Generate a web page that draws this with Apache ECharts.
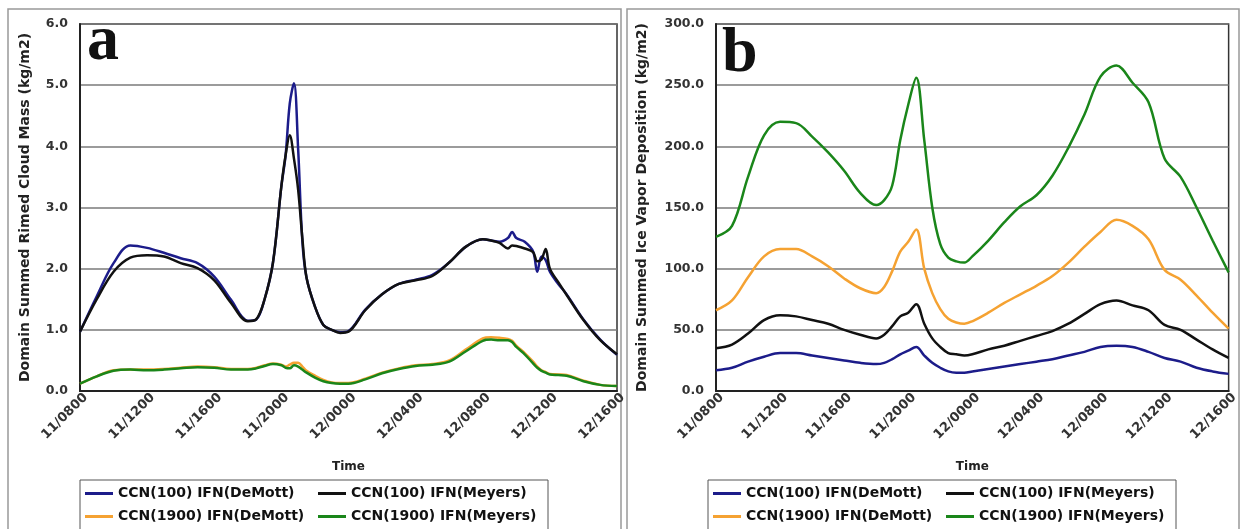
<!DOCTYPE html>
<html>
<head>
<meta charset="utf-8">
<script src="https://cdn.jsdelivr.net/npm/echarts@6/dist/echarts.min.js"></script>
<style>
  html, body { margin: 0; padding: 0; background: #fff; }
  #main { width: 1241px; height: 529px; }
</style>
</head>
<body>
<div id="main"></div>
<script>
// tick labels (every 4 hours, 11/0800 .. 12/1600)
var timeLabels = ['11/0800', '11/1200', '11/1600', '11/2000', '12/0000', '12/0400', '12/0800', '12/1200', '12/1600']
var names = ['CCN(100) IFN(DeMott)', 'CCN(100) IFN(Meyers)', 'CCN(1900) IFN(DeMott)', 'CCN(1900) IFN(Meyers)']

// panel a : hours since 11/0800
var hoursA = [0, 1, 2, 3, 4, 5, 6, 7, 8, 9, 10, 10.5, 11, 11.5, 12, 12.25, 12.5, 12.75, 13, 13.25, 13.5, 14, 14.5, 15, 15.5, 16, 17, 18, 19, 20, 21, 22, 23, 24, 24.5, 25, 25.5, 25.75, 26, 26.5, 27, 27.25, 27.5, 27.75, 28, 28.5, 29, 30, 31, 32]
var rimedDeMott100 = [0.97, 1.55, 2.09, 2.38, 2.34, 2.26, 2.17, 2.09, 1.87, 1.49, 1.15, 1.17, 1.5, 2.1, 3.35, 3.85, 4.7, 5.03, 3.95, 2.45, 1.85, 1.38, 1.08, 1.0, 0.96, 0.98, 1.33, 1.58, 1.75, 1.82, 1.9, 2.1, 2.36, 2.48, 2.46, 2.44, 2.5, 2.6, 2.5, 2.44, 2.28, 1.95, 2.2, 2.14, 1.95, 1.75, 1.58, 1.17, 0.84, 0.59]
var rimedMeyers100 = [0.97, 1.5, 1.95, 2.18, 2.22, 2.2, 2.09, 2.01, 1.81, 1.44, 1.14, 1.17, 1.5, 2.1, 3.35, 3.85, 4.18, 3.8, 3.29, 2.5, 1.85, 1.38, 1.08, 1.0, 0.95, 0.97, 1.32, 1.58, 1.75, 1.81, 1.88, 2.1, 2.36, 2.48, 2.46, 2.42, 2.33, 2.38, 2.37, 2.33, 2.27, 2.12, 2.15, 2.32, 2.0, 1.78, 1.57, 1.16, 0.83, 0.6]
var rimedDeMott1900 = [0.12, 0.24, 0.34, 0.35, 0.35, 0.36, 0.38, 0.4, 0.39, 0.36, 0.36, 0.38, 0.42, 0.45, 0.43, 0.4, 0.43, 0.46, 0.46, 0.4, 0.33, 0.25, 0.18, 0.14, 0.13, 0.13, 0.2, 0.3, 0.37, 0.42, 0.44, 0.5, 0.68, 0.86, 0.88, 0.87, 0.85, 0.82, 0.74, 0.62, 0.48, 0.4, 0.34, 0.31, 0.28, 0.27, 0.26, 0.17, 0.1, 0.08]
var rimedMeyers1900 = [0.12, 0.24, 0.33, 0.35, 0.34, 0.35, 0.37, 0.39, 0.38, 0.35, 0.35, 0.37, 0.41, 0.44, 0.42, 0.38, 0.37, 0.42, 0.4, 0.35, 0.3, 0.22, 0.16, 0.13, 0.12, 0.12, 0.19, 0.29, 0.36, 0.41, 0.43, 0.48, 0.65, 0.82, 0.84, 0.83, 0.83, 0.8, 0.72, 0.6, 0.45, 0.38, 0.33, 0.3, 0.27, 0.26, 0.25, 0.16, 0.1, 0.08]

// panel b
var hoursB = [0, 1, 2, 3, 4, 5, 6, 7, 8, 9, 10, 10.5, 11, 11.5, 12, 12.5, 13, 13.5, 14, 14.5, 15, 15.5, 16, 17, 18, 19, 20, 21, 22, 23, 24, 25, 26, 27, 28, 29, 30, 31, 32]
var iceDeMott100 = [17, 19, 24, 28, 31, 31, 29, 27, 25, 23, 22, 23, 26, 30, 33, 36, 29, 23, 19, 16, 15, 15, 16, 18, 20, 22, 24, 26, 29, 32, 36, 37, 36, 32, 27, 24, 19, 16, 14]
var iceMeyers100 = [35, 38, 47, 58, 62, 61, 58, 55, 50, 46, 43, 46, 53, 61, 64, 71, 55, 43, 36, 31, 30, 29, 30, 34, 37, 41, 45, 49, 55, 63, 71, 74, 70, 66, 54, 50, 42, 34, 27]
var iceDeMott1900 = [66, 74, 93, 110, 116, 116, 110, 102, 92, 84, 80, 85, 98, 114, 122, 132, 100, 80, 67, 59, 56, 55, 57, 64, 72, 79, 86, 94, 105, 118, 130, 140, 135, 124, 99, 91, 78, 64, 51]
var iceMeyers1900 = [126, 135, 175, 209, 220, 219, 208, 195, 180, 162, 152, 156, 168, 205, 234, 256, 205, 150, 120, 109, 106, 105, 110, 123, 138, 151, 160, 176, 199, 226, 257, 266, 252, 236, 190, 175, 150, 123, 97]

var colors = ['#1c1c8a', '#111111', '#f5a232', '#1a861a']
var fontSans = 'DejaVu Sans'

function pairs(xs, ys) {
    var out = []
    for (let i = 0; i < xs.length; i++) {
        out.push([xs[i], ys[i]])
    }
    return out
}

function makeX(gridIndex) {
    return {
        type: 'value', gridIndex: gridIndex, min: 0, max: 32, interval: 4,
        name: 'Time', nameLocation: 'middle', nameGap: 70,
        nameTextStyle: { color: '#222', fontFamily: fontSans, fontWeight: 'bold', fontSize: 12 },
        axisLine: { show: true, lineStyle: { color: '#222', width: 2 } },
        axisTick: { show: false },
        splitLine: { show: false },
        axisLabel: {
            rotate: 45, margin: 10, color: '#333', fontFamily: fontSans, fontWeight: 'bold', fontSize: 13,
            padding: [0, -8, 0, 0],
            formatter: function (v) { return timeLabels[Math.round(v / 4)] }
        }
    }
}

function makeY(gridIndex, max, interval, title, gap) {
    return {
        type: 'value', gridIndex: gridIndex, min: 0, max: max, interval: interval,
        name: title, nameLocation: 'middle', nameGap: gap, nameRotate: 90,
        nameTextStyle: { color: '#222', fontFamily: fontSans, fontWeight: 'bold', fontSize: 14 },
        axisLine: { show: true, lineStyle: { color: '#222', width: 2 } },
        axisTick: { show: false },
        splitLine: { show: true, lineStyle: { color: '#7a7a7a', width: 1.5 } },
        axisLabel: {
            margin: 12, color: '#333', fontFamily: fontSans, fontWeight: 'bold', fontSize: 12.5,
            formatter: function (v) { return v.toFixed(1) }
        }
    }
}

function makeSeries(name, idx, data, gridIdx) {
    return {
        name: name, type: 'line', xAxisIndex: gridIdx, yAxisIndex: gridIdx,
        data: data, showSymbol: false, smooth: 0.35,
        lineStyle: { color: colors[idx], width: 2.5 },
        itemStyle: { color: colors[idx] },
        z: 3 + idx
    }
}

function makeLegend(left) {
    return {
        left: left, top: 480, width: 470,
        orient: 'horizontal',
        data: names,
        icon: 'rect', itemWidth: 28, itemHeight: 3, itemGap: 8, itemTextGap: 4,
        borderColor: '#555', borderWidth: 1, padding: [6, 5, 8, 5],
        selectedMode: false,
        textStyle: { color: '#111', fontFamily: fontSans, fontWeight: 'bold', fontSize: 14, width: 192, lineHeight: 15 }
    }
}

var myChart = echarts.init(document.getElementById('main'))

var option = {
    backgroundColor: '#fff',
    animation: false,
    grid: [
        { left: 80, top: 24, width: 537, height: 367, show: true, borderColor: '#333', borderWidth: 1.5 },
        { left: 716, top: 24, width: 521, height: 367, show: true, borderColor: '#333', borderWidth: 1.5 }
    ],
    xAxis: [makeX(0), makeX(1)],
    yAxis: [
        makeY(0, 6, 1, 'Domain Summed Rimed Cloud Mass (kg/m2)', 48),
        makeY(1, 300, 50, 'Domain Summed Ice Vapor Deposition (kg/m2)', 67)
    ],
    legend: [makeLegend(80), makeLegend(708)],
    graphic: [
        { type: 'rect', shape: { x: 8, y: 9, width: 613, height: 530 }, style: { fill: null, stroke: '#999', lineWidth: 1.5 }, z: -1 },
        { type: 'rect', shape: { x: 627, y: 9, width: 612, height: 530 }, style: { fill: null, stroke: '#999', lineWidth: 1.5 }, z: -1 },
        { type: 'text', x: 87, y: 74, style: { text: 'a', font: 'bold 64px "Liberation Serif"', fill: '#111', verticalAlign: 'bottom' }, z: 10 },
        { type: 'text', x: 722, y: 86, style: { text: 'b', font: 'bold 64px "Liberation Serif"', fill: '#111', verticalAlign: 'bottom' }, z: 10 }
    ],
    series: [
        makeSeries(names[0], 0, pairs(hoursA, rimedDeMott100), 0),
        makeSeries(names[1], 1, pairs(hoursA, rimedMeyers100), 0),
        makeSeries(names[2], 2, pairs(hoursA, rimedDeMott1900), 0),
        makeSeries(names[3], 3, pairs(hoursA, rimedMeyers1900), 0),
        makeSeries(names[0], 0, pairs(hoursB, iceDeMott100), 1),
        makeSeries(names[1], 1, pairs(hoursB, iceMeyers100), 1),
        makeSeries(names[2], 2, pairs(hoursB, iceDeMott1900), 1),
        makeSeries(names[3], 3, pairs(hoursB, iceMeyers1900), 1)
    ]
}

myChart.setOption(option)
window.addEventListener('resize', function () {
    myChart.resize()
})
</script>
</body>
</html>
